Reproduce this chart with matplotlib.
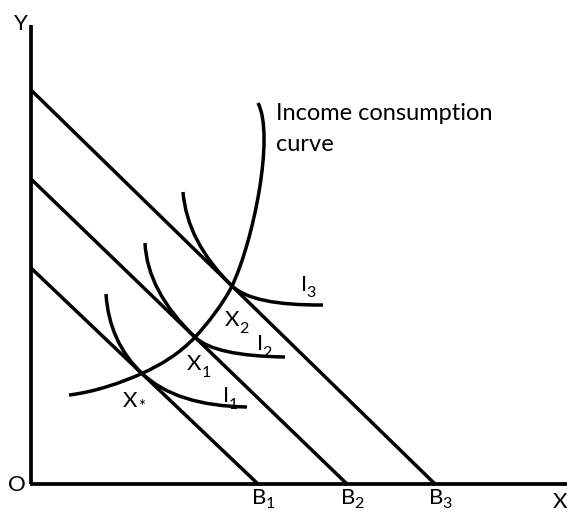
import matplotlib
matplotlib.use("Agg")
import matplotlib.pyplot as plt
from matplotlib.path import Path
from matplotlib.patches import PathPatch

# ---- data (diagram units) ----
budget_labels = ["B", "B", "B"]
budget_subs = ["1", "2", "3"]
budget_y_int = [5.4, 7.625, 9.85]
budget_x_int = [5.675, 7.9, 10.1]

# equilibrium (tangency) points
eq_names = ["X*", "X1", "X2"]
eq_x = [2.775, 4.1, 5.025]
eq_y = [2.764, 3.669, 4.95]

# indifference curves: start, control, tangency, control, end
ic1_x = [1.875, 1.95, 2.775, 3.63, 5.4]
ic1_y = [4.75, 3.55, 2.764, 1.95, 1.925]
ic2_x = [2.85, 2.9, 4.1, 4.585, 6.35]
ic2_y = [6.025, 4.826, 3.669, 3.2, 3.175]
ic3_x = [3.8, 3.9, 5.025, 5.54, 7.3]
ic3_y = [7.3, 6.05, 4.95, 4.46, 4.475]

# income consumption curve (cubic Bezier vertices)
icc_x = [0.95, 1.6, 2.3, 2.775, 3.25, 3.7, 4.1, 4.4, 4.8, 5.025, 5.55, 6.1, 5.675]
icc_y = [2.225, 2.3, 2.55, 2.764, 2.98, 3.25, 3.669, 3.99, 4.5, 4.95, 6.05, 8.7, 9.525]

FONT = ["Lato", "DejaVu Sans"]
LW = 2.5
fig = plt.figure(figsize=(5.67, 5.13), dpi=100)
ax = fig.add_axes([0, 0, 1, 1])
ax.set_xlim(-0.775, 13.4)
ax.set_ylim(-0.725, 12.1)
ax.axis("off")

# axes
ax.plot([0, 0], [0, 11.475], color="black", lw=LW + 0.2, solid_capstyle="butt")
ax.plot([-0.03, 13.6], [0, 0], color="black", lw=LW + 0.2, solid_capstyle="butt")

# budget lines
for yi, xi in zip(budget_y_int, budget_x_int):
    ax.plot([0, xi], [yi, 0], color="black", lw=LW, solid_capstyle="butt")

# indifference curves (two quadratic Bezier pieces each)
for xs, ys in [(ic1_x, ic1_y), (ic2_x, ic2_y), (ic3_x, ic3_y)]:
    verts = list(zip(xs, ys))
    codes = [Path.MOVETO, Path.CURVE3, Path.CURVE3, Path.CURVE3, Path.CURVE3]
    ax.add_patch(PathPatch(Path(verts, codes), fill=False, lw=LW, edgecolor="black"))

# income consumption curve
verts = list(zip(icc_x, icc_y))
codes = [Path.MOVETO] + [Path.CURVE4] * (len(verts) - 1)
ax.add_patch(PathPatch(Path(verts, codes), fill=False, lw=LW, edgecolor="black"))

FS = 16
SFS = 11.5

def lab(x, y, main, sub=None, sub_dx=0.36, sub_dy=-0.18, sfs=SFS):
    ax.text(x, y, main, fontsize=FS, family=FONT, ha="left", va="baseline")
    if sub:
        ax.text(x + sub_dx, y + sub_dy, sub, fontsize=sfs, family=FONT,
                ha="left", va="baseline")

# axis labels
ax.text(-0.25, 11.35, "Y", fontsize=FS, family=FONT, ha="center", va="baseline")
ax.text(-0.35, -0.02, "O", fontsize=FS, family=FONT, ha="center", va="center")
ax.text(13.05, -0.6, "X", fontsize=FS, family=FONT, ha="left", va="baseline")

# budget line labels
for xi, b, s in zip(budget_x_int, budget_labels, budget_subs):
    lab(xi - 0.15, -0.5, b, s, sub_dx=0.34, sub_dy=-0.1)

# equilibrium labels
lab(2.3, 1.93, "X", "*", sub_dx=0.38, sub_dy=-0.12, sfs=12)
lab(3.9, 2.85, "X", "1")
lab(4.85, 3.95, "X", "2")

# indifference labels
lab(4.8, 2.05, "I", "1", sub_dx=0.13)
lab(5.65, 3.35, "I", "2", sub_dx=0.13)
lab(6.75, 4.82, "I", "3", sub_dx=0.13, sub_dy=-0.15)

# curve annotation
ax.text(6.125, 9.1, "Income consumption", fontsize=17, family=FONT, ha="left", va="baseline")
ax.text(6.125, 8.325, "curve", fontsize=17, family=FONT, ha="left", va="baseline")

fig.savefig("out.png", dpi=100)
